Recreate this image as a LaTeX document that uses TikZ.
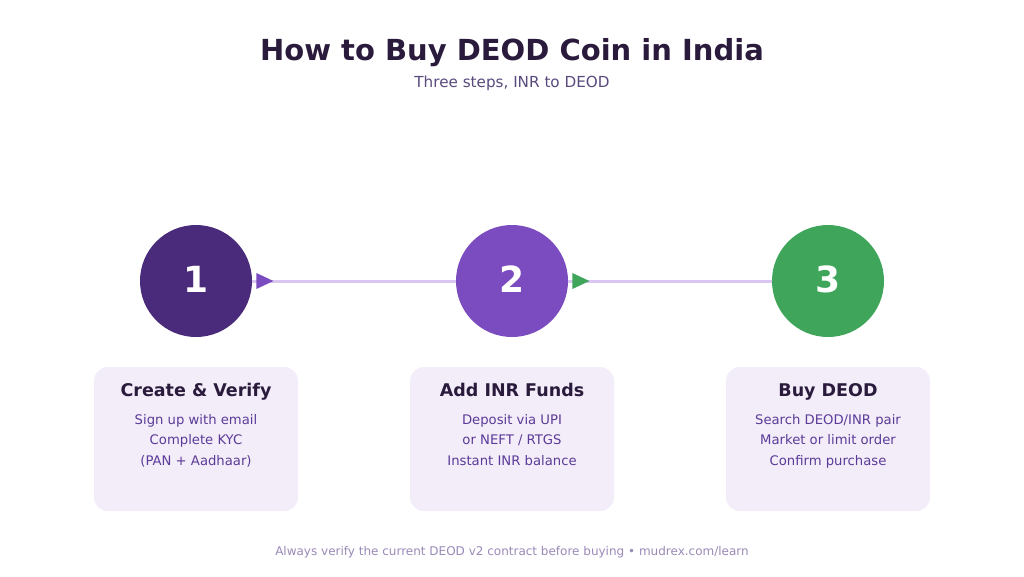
\documentclass[tikz,border=0pt]{standalone}
\usepackage{fontspec}
\setmainfont{DejaVu Sans}
\usetikzlibrary{positioning,shapes.geometric}
\definecolor{inkdark}{HTML}{2A1B3D}
\definecolor{inksub}{HTML}{5A4A7E}
\definecolor{inkbody}{HTML}{5B3A98}
\definecolor{inkfoot}{HTML}{9A8AB8}
\definecolor{stepa}{HTML}{4A2A7A}
\definecolor{stepb}{HTML}{7B4BC0}
\definecolor{stepc}{HTML}{3FA55B}
\definecolor{linkline}{HTML}{D9C6F1}
\definecolor{cardfill}{HTML}{F3EDF9}
\begin{document}
\begin{tikzpicture}[x=1pt, y=-1pt,
    stepdot/.style={circle, minimum size=112pt, inner sep=0pt},
    stepnum/.style={anchor=base, text=white, font=\fontsize{36}{36}\selectfont\bfseries},
    card/.style={rounded corners=14pt, fill=cardfill, minimum width=204pt,
      minimum height=144pt, inner sep=0pt},
    cardtitle/.style={anchor=base, text=inkdark, font=\fontsize{17.5}{20}\selectfont\bfseries},
    cardbody/.style={anchor=base, text=inkbody, align=center, font=\fontsize{13.2}{20.3}\selectfont},
    link/.style={draw=linkline, line width=3pt},
    tip/.style={isosceles triangle, isosceles triangle stretches, inner sep=0pt,
      minimum height=17pt, minimum width=16pt, right=4pt of #1}]
  \useasboundingbox (0,0) rectangle (1024,576);
  \fill[white] (0,0) rectangle (1024,576);

  % heading
  \node[anchor=base, text=inkdark, font=\fontsize{29}{32}\selectfont\bfseries] (title) at (512,60) {How to Buy DEOD Coin in India};
  \node[anchor=base, text=inksub, font=\fontsize{15.2}{17}\selectfont] (subtitle) at (512,87) {Three steps, INR to DEOD};

  % steps
  \node[stepdot, fill=stepa] (s1) at (196,281) {};
  \node[stepdot, fill=stepb] (s2) at (512,281) {};
  \node[stepdot, fill=stepc] (s3) at (828,281) {};
  \node[stepnum] (n1) at (196,292) {1};
  \node[stepnum] (n2) at (512,292) {2};
  \node[stepnum] (n3) at (828,292) {3};

  \draw[link] (s1) -- (s2);
  \draw[link] (s2) -- (s3);
  \node[tip=s1, fill=stepb] (t1) {};
  \node[tip=s2, fill=stepc] (t2) {};

  % cards
  \node[card] (c1) at (196,439) {};
  \node[card] (c2) at (512,439) {};
  \node[card] (c3) at (828,439) {};

  \node[cardtitle] (h1) at (196,396) {Create \& Verify};
  \node[cardtitle] (h2) at (512,396) {Add INR Funds};
  \node[cardtitle] (h3) at (828,396) {Buy DEOD};

  % base anchor sits on the last line
  \node[cardbody] (b1) at (196,465) {Sign up with email\\Complete KYC\\(PAN + Aadhaar)};
  \node[cardbody] (b2) at (512,465) {Deposit via UPI\\or NEFT / RTGS\\Instant INR balance};
  \node[cardbody] (b3) at (828,465) {Search DEOD/INR pair\\Market or limit order\\Confirm purchase};

  % footer
  \node[anchor=base, text=inkfoot, font=\fontsize{12}{14}\selectfont] (foot) at (512,555) {Always verify the current DEOD v2 contract before buying • mudrex.com/learn};
\end{tikzpicture}
\end{document}
